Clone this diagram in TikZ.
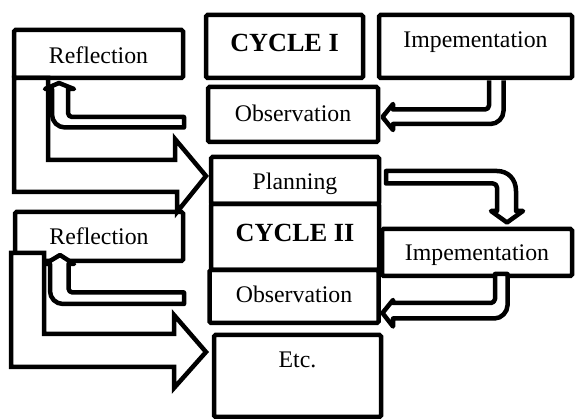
\documentclass[tikz,border=0pt]{standalone}
\usepackage{fontspec}
\setmainfont{Liberation Serif}
\begin{document}
\begin{tikzpicture}[x=1pt,y=-1pt,
  every node/.style={font=\fontsize{23.8}{28}\selectfont},
  box/.style={draw, line width=4.5pt, rounded corners=1.5pt, inner sep=0pt, text depth=0pt},
  boldtext/.style={font=\fontsize{26.2}{30}\selectfont\bfseries},
  blockarrow/.style={draw, fill=white, line width=4.5pt, line join=miter},
  bentarrow/.style={draw, fill=white, line width=4.5pt, line join=round}]
\useasboundingbox (0,0) rectangle (576,419);

% boxes
\node[box, minimum width=169pt, minimum height=48pt, text height=20pt] (refA) at (98.5,54) {Reflection};
\node[box, boldtext, minimum width=157pt, minimum height=63pt, text height=11pt] (cycA) at (284.5,46.5) {CYCLE I};
\node[box, minimum width=193pt, minimum height=63pt, text height=3pt] (impA) at (475.5,46.5) {Impementation};
\node[box, minimum width=170pt, minimum height=55pt, text height=15pt] (obsA) at (293,114.5) {Observation};
\node[box, minimum width=168pt, minimum height=47pt, text height=19pt] (plan) at (295,180.5) {Planning};
\node[box, boldtext, minimum width=168pt, minimum height=66pt, text height=10pt] (cycB) at (295,237) {CYCLE II};
\node[box, minimum width=190pt, minimum height=47pt, text height=17pt] (impB) at (477,252.5) {Impementation};
\node[box, minimum width=168pt, minimum height=49pt, text height=17pt] (refB) at (99,236.5) {Reflection};
\node[box, minimum width=169pt, minimum height=53pt, text height=13pt] (obsB) at (294,296.5) {Observation};
\node[box, minimum width=167pt, minimum height=82pt, text height=0pt, text depth=16pt] (etc) at (297.5,376) {Etc.};

% big block arrows (Reflection -> Planning, Reflection -> Etc.)
\draw[blockarrow] (14,78) -- (14,192) -- (177,192) -- (177,212) -- (206,176)
  -- (175,139) -- (175,160) -- (48,160) -- (48,78) -- cycle;
\draw[blockarrow] (11,253) -- (11,367) -- (174,367) -- (174,388) -- (206,352)
  -- (174,315) -- (174,334) -- (44,334) -- (44,253) -- cycle;

% bent arrow: Observation I -> Reflection I
\draw[bentarrow] (184,117) -- (72,117) .. controls (69.8,117) and (68,115.2) .. (68,113)
  -- (68,89) -- (74,89) -- (59,83) -- (45,89) -- (52,89) -- (52,114.5)
  .. controls (52,121.7) and (57.8,127.5) .. (65,127.5) -- (184,127.5) -- cycle;

% bent arrow: Implementation I -> Observation I
\draw[bentarrow] (489,80.5) -- (489,105.5) .. controls (489,107.7) and (487.2,109.5) .. (485,109.5)
  -- (393,109.5) -- (393,104) -- (382.5,117) -- (393,130) -- (393,124) -- (490.5,124)
  .. controls (497.7,124) and (503.5,117.8) .. (503.5,111) -- (503.5,80.5);

% bent arrow: Planning -> Implementation II
\draw[bentarrow] (386,171) -- (497,171) .. controls (508,171) and (516,179) .. (516,191)
  -- (516,211) -- (523,211) -- (507,222.5) -- (491,211) -- (497,211) -- (497,187.5)
  .. controls (497,185.3) and (495.2,183.5) .. (493,183.5) -- (386,183.5) -- cycle;

% bent arrow: Implementation II -> Observation II
\draw[bentarrow] (495,274) -- (495,299) .. controls (495,301.2) and (492.8,303) .. (491,303)
  -- (393,303) -- (393,300) -- (382.5,313) -- (393,326.5) -- (393,318.5) -- (494.5,318.5)
  .. controls (501.7,318.5) and (507.5,311.7) .. (507.5,305.5) -- (507.5,274) -- cycle;

% bent arrow: Observation II -> Reflection II
\draw[bentarrow] (184,292.5) -- (72.5,292.5) .. controls (70.3,292.5) and (68.5,290.7) .. (68.5,288.5)
  -- (68.5,264) -- (74,264) -- (60,255) -- (45,264) -- (50,264) -- (50,291)
  .. controls (50,298.2) and (55.8,304) .. (63,304) -- (184,304) -- cycle;
\end{tikzpicture}
\end{document}
